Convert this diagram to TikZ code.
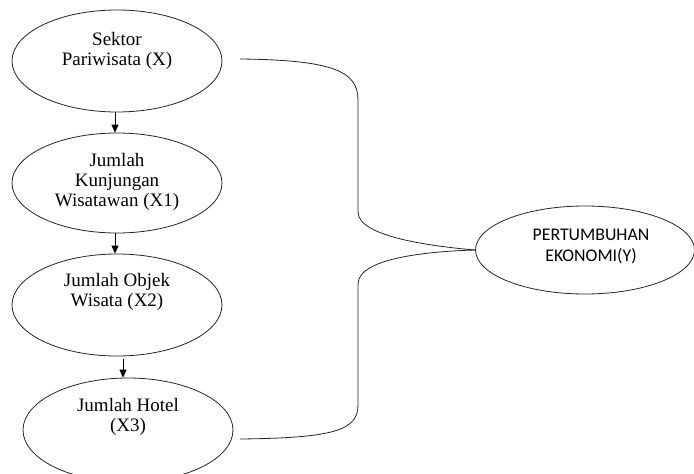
\documentclass[tikz,border=0pt]{standalone}
\usepackage{fontspec}
\setmainfont{Liberation Serif}
\newfontfamily\calibri{Carlito}
\usetikzlibrary{shapes.geometric,arrows.meta}
\begin{document}
\begin{tikzpicture}[x=1pt,y=-1pt,
  ell/.style={draw=black!85,line width=0.8pt,ellipse,inner sep=0pt,minimum width=210pt,minimum height=102pt},
  txt/.style={align=center,font=\fontsize{19}{20}\selectfont,inner sep=0pt},
  ytxt/.style={align=center,font=\calibri\fontsize{17.8}{21}\selectfont,inner sep=0pt},
  conn/.style={draw=black!85,line width=0.8pt},
  arr/.style={draw=black,line width=0.8pt,-{Triangle[length=8pt,width=7pt]}}]
\useasboundingbox (0,0) rectangle (694,474);
\fill[white] (0,0) rectangle (694,474);
% left column
\node[ell] (x) at (117,61) {};
\node[txt] (tx) at (117,51) {Sektor\\Pariwisata (X)};
\node[ell,minimum height=100pt] (x1) at (117,183) {};
\node[txt] (tx1) at (117,182) {Jumlah\\Kunjungan\\Wisatawan (X1)};
\node[ell] (x2) at (117,305) {};
\node[txt] (tx2) at (117,292) {Jumlah Objek\\Wisata (X2)};
\node[ell,minimum height=104pt] (x3) at (128,430) {};
\node[txt] (tx3) at (128,417) {Jumlah Hotel\\(X3)};
% right
\node[ell,minimum width=219pt,minimum height=88pt] (y) at (585,250) {};
\node[ytxt] (ty) at (591,247) {PERTUMBUHAN\\EKONOMI(Y)};
% arrows
\draw[arr] ([xshift=-2pt]x.south) -- ([xshift=-2pt]x1.north);
\draw[arr] ([xshift=-2pt]x1.south) -- ([xshift=-2pt]x2.north);
\draw[arr] ([shift={(6pt,-3pt)}]x2.south) -- ([xshift=-5pt]x3.north);
% brace
\coordinate (c1) at (240,59);
\coordinate (c4) at (240,439);
\draw[conn] (c1) .. controls (335,60) and (358,72) .. (358,100) -- (358,212)
  .. controls (358,238) and (440,247) .. (y.west);
\draw[conn] (y.west) .. controls (440,251) and (358,256) .. (358,284) -- (358,405)
  .. controls (358,430) and (335,438) .. (c4);
\end{tikzpicture}
\end{document}
